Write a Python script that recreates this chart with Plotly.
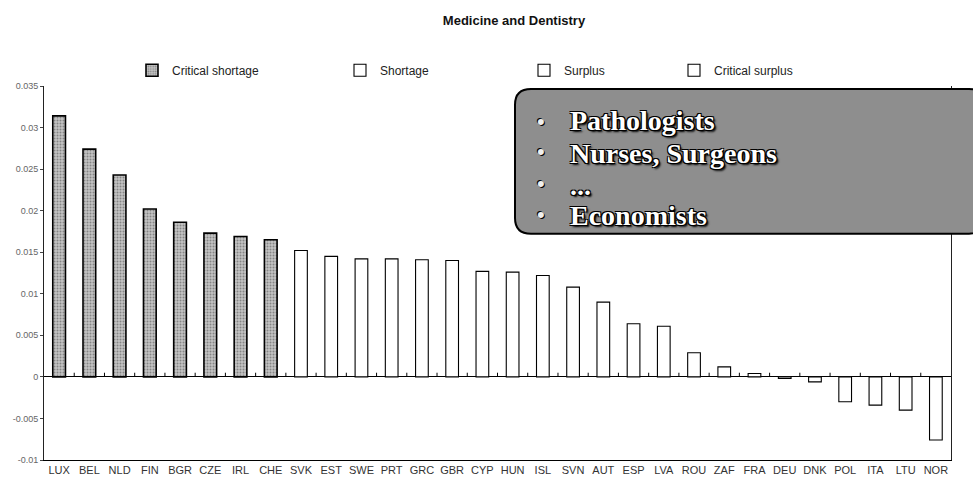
import plotly.graph_objects as go

countries = ["LUX", "BEL", "NLD", "FIN", "BGR", "CZE", "IRL", "CHE", "SVK", "EST",
             "SWE", "PRT", "GRC", "GBR", "CYP", "HUN", "ISL", "SVN", "AUT", "ESP",
             "LVA", "ROU", "ZAF", "FRA", "DEU", "DNK", "POL", "ITA", "LTU", "NOR"]
values = [0.0314, 0.0274, 0.0243, 0.0202, 0.0186, 0.0173, 0.0169, 0.0165, 0.0152, 0.0145,
          0.0142, 0.0142, 0.0141, 0.0140, 0.0127, 0.0126, 0.0122, 0.0108, 0.0090, 0.0064,
          0.0061, 0.0029, 0.0012, 0.0004, -0.0002, -0.0006, -0.0030, -0.0034, -0.0040, -0.0076]
groups = ["Critical shortage"] * 8 + ["Shortage"] * 13 + ["Surplus"] * 5 + ["Critical surplus"] * 4
group_names = ["Critical shortage", "Shortage", "Surplus", "Critical surplus"]

ytickvals = [0.035, 0.03, 0.025, 0.02, 0.015, 0.01, 0.005, 0, -0.005, -0.01]
yticktext = ["0.035", "0.03", "0.025", "0.02", "0.015", "0.01", "0.005", "0", "-0.005", "-0.01"]

box_lines = ["Pathologists", "Nurses, Surgeons", "...", "Economists"]

title = "Medicine and Dentistry"

# layout geometry (pixels)
W, H = 973, 488
L, R, T, B = 44, 22, 86, 22
PW, PH = W - L - R, H - T - B


def px_x(p):
    return (p - L) / PW


def px_y(p):
    return (H - B - p) / PH


fig = go.Figure()
legend_ids = ["legend", "legend2", "legend3", "legend4"]
for gi, g in enumerate(group_names):
    xs = [c for c, gg in zip(countries, groups) if gg == g]
    ys = [v for v, gg in zip(values, groups) if gg == g]
    if g == "Critical shortage":
        marker = dict(color="#bdbdbd", line=dict(color="black", width=1.6),
                      pattern=dict(shape=".", fgcolor="#444444", bgcolor="#c4c4c4",
                                   size=3, solidity=0.35))
    else:
        marker = dict(color="white", line=dict(color="black", width=1.1))
    fig.add_trace(go.Bar(x=xs, y=ys, name=g, marker=marker, width=0.42,
                         legend=legend_ids[gi], showlegend=True))

legend_text_px = [172, 380, 564, 714]
leg_font = dict(family="Liberation Sans Narrow, Liberation Sans, Arial", size=12, color="#222")
for lid, tx in zip(legend_ids, legend_text_px):
    fig.update_layout(**{lid: dict(x=px_x(tx - 40), y=px_y(70), xanchor="left", yanchor="middle",
                                   orientation="h", font=leg_font, bgcolor="rgba(0,0,0,0)",
                                   itemwidth=30)})

# small category separator ticks on the zero line
tick_shapes = []
for i in range(len(countries) - 1):
    tick_shapes.append(dict(type="line", xref="x", yref="y", x0=i + 0.5, x1=i + 0.5,
                            y0=0, y1=0.0005, line=dict(color="black", width=1)))

# rounded annotation box
x0, x1 = px_x(515), px_x(985)
y0, y1 = px_y(236), px_y(89)
rx, ry = 16 / PW, 16 / PH
path = (f"M {x0 + rx},{y1} L {x1 - rx},{y1} Q {x1},{y1} {x1},{y1 - ry} "
        f"L {x1},{y0 + ry} Q {x1},{y0} {x1 - rx},{y0} L {x0 + rx},{y0} "
        f"Q {x0},{y0} {x0},{y0 + ry} L {x0},{y1 - ry} Q {x0},{y1} {x0 + rx},{y1} Z")
box_shape = dict(type="path", xref="paper", yref="paper", path=path,
                 fillcolor="#8e8e8e", line=dict(color="black", width=2), layer="above")

annotations = []
line_y_px = [121, 155, 187, 218]
bullet_y_px = [122, 153, 185, 217]
shadow = "1px 1px 0px #000, -1px -1px 0px #000, 1px -1px 0px #000, -1px 1px 0px #000, 2px 2px 2px #000"
for txt, ly, by in zip(box_lines, line_y_px, bullet_y_px):
    annotations.append(dict(xref="paper", yref="paper", x=px_x(568), y=px_y(ly),
                            xanchor="left", yanchor="middle", text=txt, showarrow=False,
                            font=dict(family="Liberation Serif, Times New Roman", size=28,
                                      color="white", weight="bold", shadow=shadow)))
    annotations.append(dict(xref="paper", yref="paper", x=px_x(541), y=px_y(by),
                            xanchor="center", yanchor="middle", text="•", showarrow=False,
                            font=dict(family="Liberation Sans", size=22, color="#f0f0f0",
                                      shadow="1px 1px 0px #000, -1px -1px 0px #000")))

fig.update_layout(
    width=W, height=H,
    margin=dict(l=L, r=R, t=T, b=B, pad=0),
    paper_bgcolor="white", plot_bgcolor="white",
    barmode="overlay",
    title=dict(text=title, x=514 / W, xanchor="center", y=1 - 20 / H, yanchor="middle",
               font=dict(family="Liberation Sans Narrow, Liberation Sans, Arial", size=13,
                         color="#111", weight="bold")),
    xaxis=dict(type="category", categoryorder="array", categoryarray=countries,
               range=[-0.5, len(countries) - 0.5], showgrid=False, showline=True,
               linecolor="black", linewidth=1, ticks="", mirror=False,
               tickfont=dict(family="Liberation Sans Narrow, Liberation Sans, Arial",
                             size=11, color="#333")),
    yaxis=dict(range=[-0.01, 0.035], tickvals=ytickvals, ticktext=yticktext,
               showgrid=False, zeroline=True, zerolinecolor="black", zerolinewidth=1,
               showline=True, linecolor="#222", linewidth=1, mirror=True,
               ticks="outside", ticklen=3, tickcolor="#444",
               tickfont=dict(family="Liberation Sans Narrow, Liberation Sans, Arial",
                             size=9, color="#666")),
    shapes=tick_shapes + [box_shape],
    annotations=annotations,
)

fig.write_html("out.html")
